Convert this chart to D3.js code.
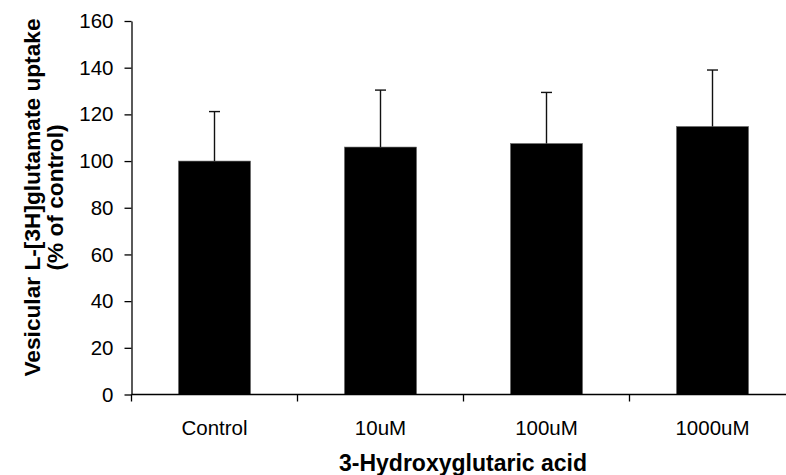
<!DOCTYPE html>
<html><head><meta charset="utf-8">
<script src="https://cdn.jsdelivr.net/npm/d3@7"></script>
<style>
html,body{margin:0;padding:0;background:#fff;}
svg{display:block;font-family:"Liberation Sans",Arial,sans-serif;}
</style></head>
<body><svg id="chart" width="786" height="475"></svg>
<script>
const categories = ["Control", "10uM", "100uM", "1000uM"];
const means = [100, 106, 107.5, 114.8];
const errUpper = [121.2, 130.4, 129.4, 139];
const yTicks = [0, 20, 40, 60, 80, 100, 120, 140, 160];
const xTitle = "3-Hydroxyglutaric acid";
const yTitle = ["Vesicular L-[3H]glutamate uptake", "(% of control)"];

const svg = d3.select("#chart");
const x0 = 131.5, step = 166;
const x = d3.scaleBand().domain(categories).range([x0, x0 + step * categories.length]).padding(0);
const y = d3.scaleLinear().domain([0, 160]).range([394.5, 21]);
const barW = x.bandwidth() * 0.434;

// bars
svg.append("g").selectAll("rect").data(categories).join("rect")
  .attr("x", d => x(d) + (x.bandwidth() - barW) / 2)
  .attr("width", barW)
  .attr("y", (d, i) => y(means[i]))
  .attr("height", (d, i) => y(0) - y(means[i]))
  .attr("fill", "#000")
  .attr("stroke", "#666").attr("stroke-width", 0.6);

// error bars
const eg = svg.append("g").attr("stroke", "#111").attr("stroke-width", 1.4);
categories.forEach((c, i) => {
  const cx = x(c) + x.bandwidth() / 2;
  eg.append("line").attr("x1", cx).attr("x2", cx).attr("y1", y(means[i])).attr("y2", y(errUpper[i]));
  eg.append("line").attr("x1", cx - 5.5).attr("x2", cx + 5.5).attr("y1", y(errUpper[i])).attr("y2", y(errUpper[i]));
});

// y axis
const yAxis = svg.append("g").attr("transform", `translate(${x0},0)`)
  .call(d3.axisLeft(y).tickValues(yTicks).tickSize(7).tickPadding(11).tickSizeOuter(0));
yAxis.select(".domain").attr("stroke", "#000").attr("stroke-width", 1.3);
yAxis.selectAll(".tick line").attr("stroke", "#000").attr("stroke-width", 1.3);
yAxis.selectAll(".tick text").attr("font-size", 20.5).attr("fill", "#000")
  .attr("font-family", "Liberation Sans, Arial, sans-serif");

// x axis
const xg = svg.append("g");
xg.append("line").attr("x1", x0).attr("x2", 800).attr("y1", y(0)).attr("y2", y(0))
  .attr("stroke", "#000").attr("stroke-width", 1.3);
categories.forEach(c => {
  xg.append("line").attr("x1", x(c)).attr("x2", x(c)).attr("y1", y(0)).attr("y2", y(0) + 7)
    .attr("stroke", "#000").attr("stroke-width", 1.3);
  xg.append("text").attr("x", x(c) + x.bandwidth() / 2).attr("y", 434.5)
    .attr("text-anchor", "middle").attr("font-size", 20.5).attr("fill", "#000").text(c);
});

// titles
svg.append("text").attr("x", 463).attr("y", 470.5).attr("text-anchor", "middle")
  .attr("font-size", 23).attr("font-weight", "bold").attr("fill", "#000").text(xTitle);
yTitle.forEach((t, i) => {
  svg.append("text").attr("transform", `translate(${40 + i * 23},197.5) rotate(-90)`)
    .attr("text-anchor", "middle").attr("font-size", 22.7).attr("font-weight", "bold")
    .attr("fill", "#000").text(t);
});
</script></body></html>
